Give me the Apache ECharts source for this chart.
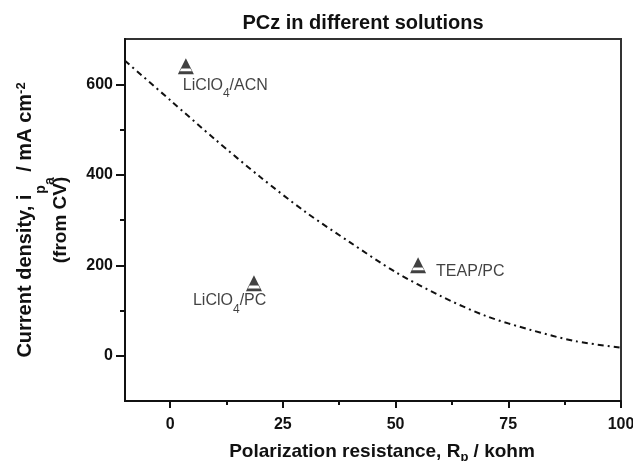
<!DOCTYPE html>
<html>
<head>
<meta charset="utf-8">
<script src="https://cdn.jsdelivr.net/npm/echarts@6/dist/echarts.min.js"></script>
<style>html,body{margin:0;padding:0;background:#fff;}#c{width:633px;height:461px;}</style>
</head>
<body>
<div id="c"></div>
<script>
// ---- data ----
const curveX = [-10, 0, 10, 20, 30, 40, 50, 60, 70, 80, 90, 100];
const curveY = [652, 565, 478, 395, 318, 250, 185, 132, 88, 57, 32, 18];
const pointNames = ['LiClO4/ACN', 'TEAP/PC', 'LiClO4/PC'];
const pointX = [3.5, 55, 18.6];
const pointY = [640, 200, 160];
const xTicks = [0, 25, 50, 75, 100];
const xMinorTicks = [12.5, 37.5, 62.5, 87.5];
const yTicks = [0, 200, 400, 600];
const yMinorTicks = [100, 300, 500];

const FONT = '"Liberation Sans", Arial, sans-serif';
const DARK = '#111';
const triPath = 'path://M50 0 L100 100 L0 100 Z M22 64 L12 82 L88 82 L78 64 Z';

const labelRich = {
  b: {fontSize: 16, fontFamily: FONT, color: DARK, verticalAlign: 'top', lineHeight: 18},
  s: {fontSize: 12, fontFamily: FONT, color: DARK, verticalAlign: 'top', lineHeight: 12, padding: [11, 0, 0, 0]}
};
const labelText = {
  'LiClO4/ACN': '{b|LiClO}{s|4}{b|/ACN}',
  'TEAP/PC': '{b|TEAP/PC}',
  'LiClO4/PC': '{b|LiClO}{s|4}{b|/PC}'
};
const labelPos = {
  'LiClO4/ACN': [5, 19],
  'TEAP/PC': [26, 6],
  'LiClO4/PC': [-53, 17]
};

const pointData = pointNames.map((n, i) => ({
  value: [pointX[i], pointY[i]],
  name: n,
  label: {show: true, position: labelPos[n], formatter: labelText[n], rich: labelRich}
}));

const chart = echarts.init(document.getElementById('c'), null, {renderer: 'canvas'});
const axisCommon = {type: 'value', splitLine: {show: false}};

chart.setOption({
  animation: false,
  backgroundColor: '#fff',
  title: {
    text: 'PCz in different solutions',
    left: 358, top: 8, textAlign: 'center',
    textStyle: {fontFamily: FONT, fontWeight: 'bold', fontSize: 20, color: DARK}
  },
  grid: {
    left: 125, right: 12, top: 39, bottom: 60,
    outerBoundsMode: 'none', containLabel: false,
    show: true, borderColor: '#333', borderWidth: 2, backgroundColor: 'transparent'
  },
  xAxis: [
    Object.assign({}, axisCommon, {
      min: -10, max: 100, position: 'bottom',
      axisLine: {show: true, onZero: false, lineStyle: {color: DARK, width: 2}},
      axisTick: {show: true, customValues: xTicks, length: 7, lineStyle: {color: DARK, width: 2}},
      axisLabel: {customValues: xTicks, margin: 16, fontFamily: FONT, fontWeight: 'bold', fontSize: 16, color: DARK},
      name: 'Polarization resistance, R{sub|p} / kohm',
      nameLocation: 'middle', nameGap: 38,
      nameTextStyle: {
        fontFamily: FONT, fontWeight: 'bold', fontSize: 19, color: DARK,
        padding: [0, 0, 0, 18],
        rich: {
          sub: {fontFamily: FONT, fontWeight: 'bold', fontSize: 13, color: DARK, padding: [12, 0, 0, 0], verticalAlign: 'top'}
        }
      }
    }),
    Object.assign({}, axisCommon, {
      min: -10, max: 100, position: 'bottom',
      axisLine: {show: false, onZero: false},
      axisTick: {show: true, customValues: xMinorTicks, length: 4, lineStyle: {color: DARK, width: 2}},
      axisLabel: {show: false}
    })
  ],
  yAxis: [
    Object.assign({}, axisCommon, {
      min: -100, max: 700, position: 'left',
      axisLine: {show: true, onZero: false, lineStyle: {color: DARK, width: 2}},
      axisTick: {show: true, customValues: yTicks, length: 9, lineStyle: {color: DARK, width: 2}},
      axisLabel: {customValues: yTicks, margin: 12, fontFamily: FONT, fontWeight: 'bold', fontSize: 16, color: DARK},
      name: '{a|Current density, i}{sub|p}{sub2|a}{a| / mA cm}{sup|-2}\n{c|(from CV)}',
      nameLocation: 'middle', nameGap: 43, nameRotate: 90,
      nameTextStyle: {
        align: 'center',
        rich: {
          a: {fontFamily: FONT, fontWeight: 'bold', fontSize: 20, color: DARK, verticalAlign: 'top', lineHeight: 24},
          sub: {fontFamily: FONT, fontWeight: 'bold', fontSize: 14, color: DARK, verticalAlign: 'top', lineHeight: 14, padding: [19, 0, 0, 1]},
          sub2: {fontFamily: FONT, fontWeight: 'bold', fontSize: 14, color: DARK, verticalAlign: 'top', lineHeight: 14, padding: [28, 0, 0, 0]},
          sup: {fontFamily: FONT, fontWeight: 'bold', fontSize: 13, color: DARK, verticalAlign: 'top', lineHeight: 13, padding: [0, 0, 0, 0]},
          c: {fontFamily: FONT, fontWeight: 'bold', fontSize: 19, color: DARK, lineHeight: 43}
        }
      }
    }),
    Object.assign({}, axisCommon, {
      min: -100, max: 700, position: 'left',
      axisLine: {show: false, onZero: false},
      axisTick: {show: true, customValues: yMinorTicks, length: 5, lineStyle: {color: DARK, width: 2}},
      axisLabel: {show: false}
    })
  ],
  series: [
    {
      type: 'line',
      xAxisIndex: 0, yAxisIndex: 0,
      data: curveX.map((x, i) => [x, curveY[i]]),
      smooth: 0.3,
      showSymbol: false,
      symbol: 'none',
      lineStyle: {color: DARK, width: 2, type: [6, 4, 2, 4]},
      z: 2
    },
    {
      type: 'scatter',
      xAxisIndex: 0, yAxisIndex: 0,
      data: pointData,
      symbol: triPath,
      symbolSize: [16, 16],
      itemStyle: {color: DARK},
      z: 3
    }
  ]
});
</script>
</body>
</html>
